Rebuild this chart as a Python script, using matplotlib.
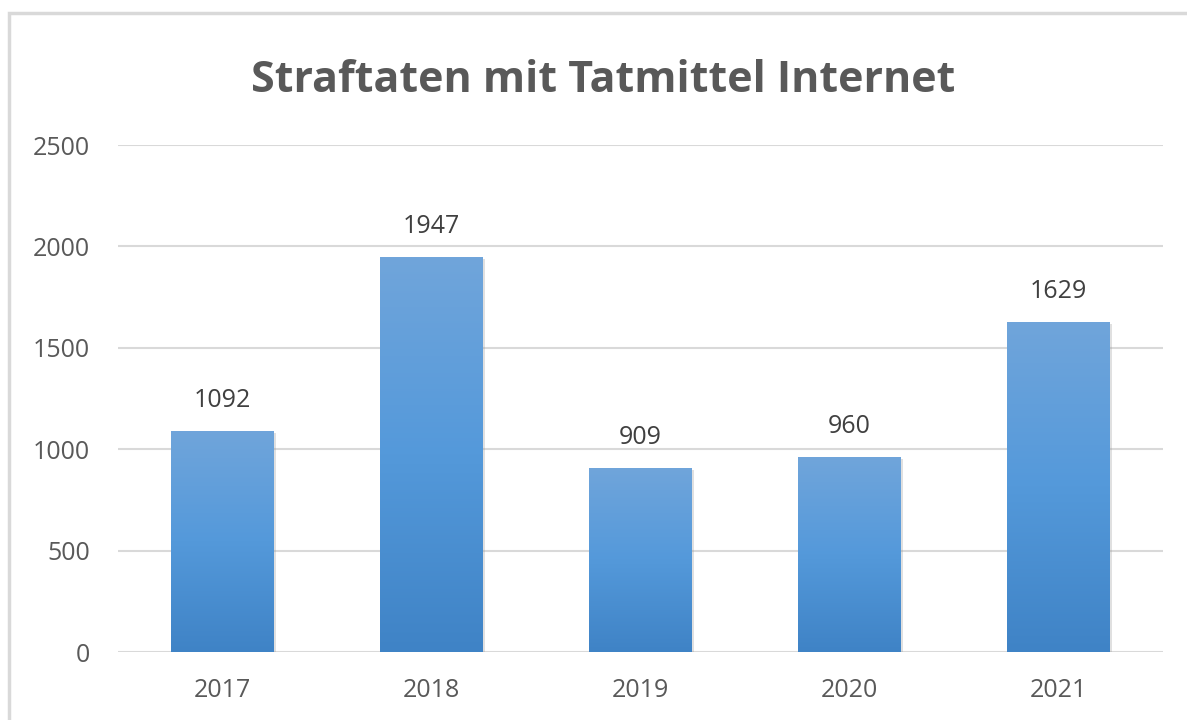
import matplotlib.pyplot as plt
import numpy as np
from matplotlib.colors import LinearSegmentedColormap
from matplotlib.patches import Rectangle
import matplotlib.patheffects as pe

years = ['2017', '2018', '2019', '2020', '2021']
counts = [1092, 1947, 909, 960, 1629]
yticks = [0, 500, 1000, 1500, 2000, 2500]
title = 'Straftaten mit Tatmittel Internet'

plt.rcParams['font.family'] = ['Open Sans', 'DejaVu Sans']

fig = plt.figure(figsize=(11.87, 7.2), dpi=100)
ax = fig.add_axes([0.0994, 0.0944, 0.8804, 0.7042])

# outer chart border (Excel style)
fig.patches.append(Rectangle((9 / 1187, -0.1), 1.2, 1 - 13 / 720 + 0.1, transform=fig.transFigure,
                             fill=False, edgecolor='#D9D9D9', linewidth=2.5, zorder=0))

x = np.arange(len(years))
bars = ax.bar(x, counts, width=0.49, color='none', zorder=3)

grad = LinearSegmentedColormap.from_list('excelblue', ['#3F83C6', '#5499DA', '#70A5DB'])
gradImg = np.linspace(0, 1, 256).reshape(-1, 1)
for b in bars:
    bx, by = b.get_x(), b.get_y()
    bw, bh = b.get_width(), b.get_height()
    shadow = Rectangle((bx, by), bw, bh, facecolor='#5B9BD5', edgecolor='none', zorder=2,
                       path_effects=[pe.SimplePatchShadow(offset=(1.5, -1.5), shadow_rgbFace='#999999', alpha=0.3)])
    ax.add_patch(shadow)
    im = ax.imshow(gradImg, cmap=grad, aspect='auto', extent=(bx, bx + bw, by, by + bh),
                   origin='lower', zorder=3)
    im.set_clip_path(shadow)
    ax.annotate(str(b.get_height()), (bx + bw / 2, by + bh), xytext=(0, 13), textcoords='offset points',
                ha='center', va='bottom', fontsize=18, color='#404040')

ax.set_xlim(-0.5, len(years) - 0.5)
ax.set_ylim(0, 2500)
ax.set_xticks(x)
ax.set_xticklabels(years)
ax.set_yticks(yticks)
ax.tick_params(axis='both', length=0, labelsize=18, labelcolor='#595959')
ax.tick_params(axis='y', pad=20)
ax.tick_params(axis='x', pad=19)
ax.grid(axis='y', color='#D9D9D9', linewidth=1.5, zorder=0)
ax.set_axisbelow(True)
for s in ax.spines.values():
    s.set_visible(False)

fig.text(0.508, 0.888, title, ha='center', va='center', fontsize=31, fontweight='bold', color='#595959')

fig.savefig('out.png', dpi=100)
